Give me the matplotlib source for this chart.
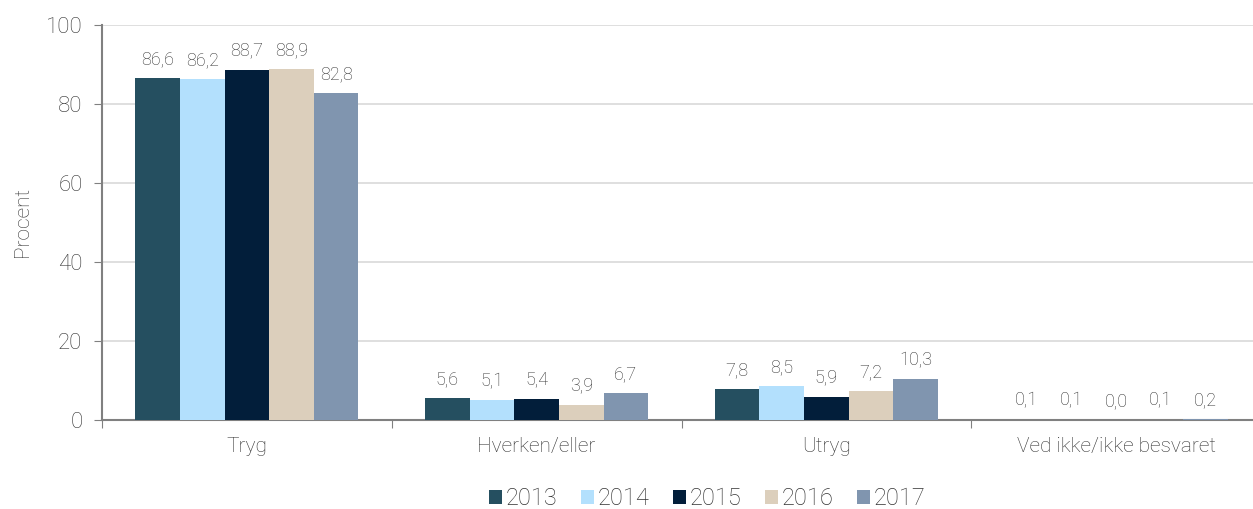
import numpy as np
import matplotlib
matplotlib.use("Agg")
import matplotlib.pyplot as plt

categories = ["Tryg", "Hverken/eller", "Utryg", "Ved ikke/ikke besvaret"]
years = ["2013", "2014", "2015", "2016", "2017"]
values = {
    "2013": [86.6, 5.6, 7.8, 0.1],
    "2014": [86.2, 5.1, 8.5, 0.1],
    "2015": [88.7, 5.4, 5.9, 0.0],
    "2016": [88.9, 3.9, 7.2, 0.1],
    "2017": [82.8, 6.7, 10.3, 0.2],
}
colors = ["#254F60", "#B3E0FD", "#021E3A", "#DCCFBC", "#8095AF"]

plt.rcParams["font.family"] = ["Roboto", "DejaVu Sans"]
plt.rcParams["font.weight"] = "light"
text_color = "#333333"

fig = plt.figure(figsize=(12.53, 5.09), dpi=100)
ax = fig.add_axes([0.0814, 0.175, 0.925, 0.776])

x = np.arange(len(categories))
bar_w = 0.154
for i, year in enumerate(years):
    pos = x + (i - 2) * bar_w
    bars = ax.bar(pos, values[year], width=bar_w, color=colors[i], label=year, zorder=3)
    for b, v in zip(bars, values[year]):
        ax.text(b.get_x() + b.get_width() / 2, v + 2.5, f"{v:.1f}".replace(".", ","),
                ha="center", va="bottom", fontsize=13, color=text_color)

ax.set_xlim(-0.5, 3.5)
ax.set_ylim(0, 100)
ax.set_yticks(range(0, 101, 20))
ax.yaxis.grid(True, color="#D9D9D9", linewidth=1.2, zorder=0)
ax.set_axisbelow(True)

ax.set_xticks(np.arange(-0.5, 3.6, 1.0), minor=False)
ax.set_xticklabels([])
ax.set_xticks(x, minor=True)
ax.set_xticklabels(categories, minor=True, fontsize=15, color=text_color)
ax.tick_params(axis="x", which="minor", length=0, pad=12)
ax.tick_params(axis="x", which="major", length=6, direction="out", color="#808080")
ax.tick_params(axis="y", length=6, color="#808080", labelsize=16, labelcolor=text_color, pad=8)

for s in ["top", "right"]:
    ax.spines[s].set_visible(False)
for s in ["left", "bottom"]:
    ax.spines[s].set_color("#808080")
    ax.spines[s].set_linewidth(1.5)

ax.set_ylabel("Procent", fontsize=15, color=text_color, labelpad=10, fontweight="light")

ax.legend(loc="lower center", bbox_to_anchor=(0.522, -0.27), ncol=5, frameon=False,
          prop={"size": 17, "weight": "light"}, handlelength=0.55, handleheight=0.55,
          handletextpad=0.15, columnspacing=1.0, labelcolor=text_color,
          borderaxespad=0.3)

fig.savefig("out.png", dpi=100)
